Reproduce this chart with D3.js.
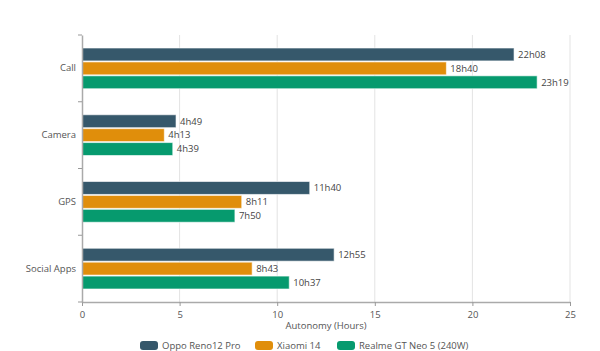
<!DOCTYPE html>
<html><head><meta charset="utf-8">
<script src="https://cdn.jsdelivr.net/npm/d3@7"></script>
<style>body{margin:0;background:#fff}svg{display:block;font-family:"Open Sans",sans-serif}</style>
</head><body><svg id="c" width="600" height="351"></svg>
<script>
const categories = ["Call", "Camera", "GPS", "Social Apps"];
const seriesNames = ["Oppo Reno12 Pro", "Xiaomi 14", "Realme GT Neo 5 (240W)"];
const seriesColors = ["#36586b", "#e08e0b", "#069a6e"];
const oppo = ["22h08", "4h49", "11h40", "12h55"];
const xiaomi = ["18h40", "4h13", "8h11", "8h43"];
const realme = ["23h19", "4h39", "7h50", "10h37"];
const xTicks = [0, 5, 10, 15, 20, 25];
const xTitle = "Autonomy (Hours)";

const toHours = s => { const [h, m] = s.split("h").map(Number); return h + m / 60; };
const series = [oppo, xiaomi, realme];

const svg = d3.select("#c");
const m = {l: 82, r: 30, t: 35, b: 49};
const W = 600, H = 351;
const x = d3.scaleLinear().domain([0, 25]).range([m.l, W - m.r]);
const y = d3.scaleBand().domain(categories).range([m.t, H - m.b]);
const inner = d3.scaleBand().domain(d3.range(3)).range([0, y.bandwidth()]).paddingOuter(0.9).paddingInner(0);

// grid
svg.append("g").selectAll("line").data(xTicks.slice(1)).join("line")
  .attr("x1", d => x(d)).attr("x2", d => x(d)).attr("y1", m.t).attr("y2", H - m.b)
  .attr("stroke", "#e3e3e3").attr("stroke-width", 1);

// bars
categories.forEach((c, ci) => {
  series.forEach((s, si) => {
    const v = toHours(s[ci]);
    const yy = y(c) + inner(si);
    svg.append("rect").attr("x", x(0)).attr("y", yy + 0.5)
      .attr("width", x(v) - x(0)).attr("height", inner.bandwidth() - 1)
      .attr("fill", seriesColors[si]).attr("stroke", "#fff").attr("stroke-opacity", 0.6).attr("stroke-width", 1);
    svg.append("text").attr("x", x(v) + 4).attr("y", yy + inner.bandwidth() / 2)
      .attr("dy", "0.35em").attr("font-size", 9.5).attr("fill", "#444").text(s[ci]);
  });
});

// x axis
const xa = svg.append("g").attr("transform", `translate(0,${H - m.b})`)
  .call(d3.axisBottom(x).tickValues(xTicks).tickSize(4).tickSizeOuter(0));
xa.select(".domain").attr("stroke", "#aaa").attr("stroke-width", 1.5);
xa.selectAll(".tick line").attr("stroke", "#999");
xa.selectAll(".tick text").attr("fill", "#555").attr("font-size", 9.5).attr("font-family", "Open Sans").attr("dy", "0.9em");

// y axis
const ya = svg.append("g").attr("transform", `translate(${m.l},0)`)
  .call(d3.axisLeft(y).tickSize(0).tickPadding(6));
ya.select(".domain").attr("stroke", "#aaa").attr("stroke-width", 1.5);
ya.selectAll(".tick text").attr("fill", "#555").attr("font-size", 9.5).attr("font-family", "Open Sans");
svg.append("g").selectAll("line").data(d3.range(categories.length + 1)).join("line")
  .attr("x1", m.l - 4).attr("x2", m.l)
  .attr("y1", i => m.t + i * y.step()).attr("y2", i => m.t + i * y.step())
  .attr("stroke", "#999");

svg.append("text").attr("x", (x(0) + x(25)) / 2).attr("y", 329).attr("text-anchor", "middle")
  .attr("font-size", 9.5).attr("fill", "#555").text(xTitle);

// legend
const legX = [140, 255, 337];
seriesNames.forEach((n, i) => {
  svg.append("rect").attr("x", legX[i]).attr("y", 341).attr("width", 18).attr("height", 9)
    .attr("rx", 3).attr("fill", seriesColors[i]);
  svg.append("text").attr("x", legX[i] + 22).attr("y", 345.5).attr("dy", "0.35em")
    .attr("font-size", 9.5).attr("fill", "#555").text(n);
});
</script></body></html>
